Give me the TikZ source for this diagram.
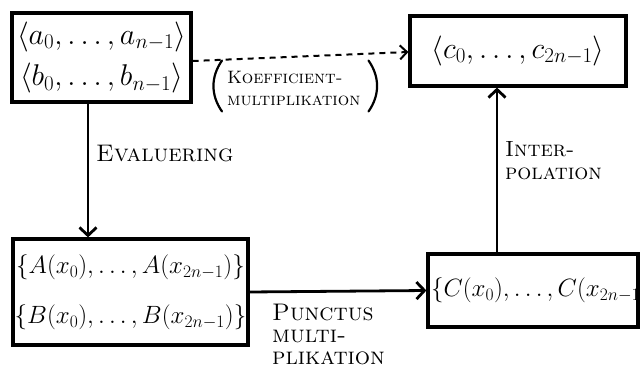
\RequirePackage{fix-cm}
\documentclass[tikz,border=0pt]{standalone}
\usetikzlibrary{arrows.meta,calc}
\begin{document}
\begin{tikzpicture}[x=1pt,y=-1pt,
  box/.style={draw,line width=3.2pt,inner sep=0pt},
  big/.style={font=\fontsize{30}{42}\selectfont},
  mid/.style={font=\fontsize{25}{50}\selectfont},
  flow/.style={line width=2.8pt,-{Straight Barb[length=8pt,width=17pt]}},
  dflow/.style={line width=2pt,dash pattern=on 6pt off 5pt,-{Straight Barb[length=7pt,width=14pt]}},
  paren/.style={line width=2.2pt,line cap=round},
  lbl/.style={inner sep=0pt,align=left,anchor=west}]
  \useasboundingbox (0,0) rectangle (641,369);

  % coefficient vectors
  \node[box,big,minimum width=179pt,minimum height=89pt,align=center] (A) at (101.5,57.5)
    {$\langle a_0,\dots,a_{n-1}\rangle$\\$\langle b_0,\dots,b_{n-1}\rangle$};
  \node[box,big,minimum width=216pt,minimum height=70pt] (C) at (518,51)
    {$\langle c_0,\dots,c_{2n-1}\rangle$};
  % point-value representations
  \node[box,mid,minimum width=235pt,minimum height=106pt,align=center] (B) at (130.5,292)
    {$\{A(x_0),\dots,A(x_{2n-1})\}$\\$\{B(x_0),\dots,B(x_{2n-1})\}$};
  \node[box,mid,minimum height=73pt,text width=204pt,inner xsep=3pt,align=left] (D) at (533,290.5)
    {$\{C(x_0),\dots,C(x_{2n-1}$};

  \coordinate (ev) at (88,0);
  \coordinate (ip) at (497,0);

  % connectors
  \draw[dflow] ([yshift=-3.5pt]A.east) -- ([yshift=-1pt]C.west);
  \draw[flow] (A.south -| ev) -- (B.north -| ev);
  \draw[flow] (B.east) -- (D.west);
  \draw[flow] (D.north -| ip) -- (C.south -| ip);

  % labels
  \node[lbl,font=\fontsize{18}{22}\selectfont] (kl) at (227,88)
    {\textsc{Koefficient-}\\\textsc{multiplikation}};
  \draw[paren] ([xshift=-5pt,yshift=10pt]kl.north west) to[bend right=35] ([xshift=-5pt,yshift=-6pt]kl.south west);
  \draw[paren] ([xshift=8pt,yshift=10pt]kl.north east) to[bend left=35] ([xshift=8pt,yshift=-6pt]kl.south east);
  \node[lbl,font=\fontsize{24}{26}\selectfont] (el) at (96,154) {\textsc{Evaluering}};
  \node[lbl,font=\fontsize{22}{23}\selectfont] (il) at (505,161) {\textsc{Inter-}\\\textsc{polation}};
  \node[lbl,font=\fontsize{24}{22}\selectfont] (pl) at (272,334) {\textsc{Punctus}\\\textsc{multi-}\\\textsc{plikation}};
\end{tikzpicture}
\end{document}
